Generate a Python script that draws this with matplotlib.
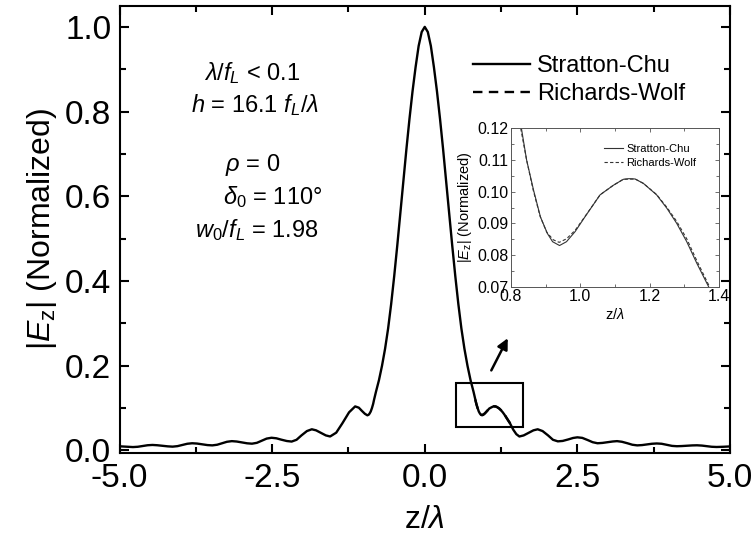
import matplotlib
matplotlib.use("Agg")
import matplotlib.pyplot as plt
from matplotlib.lines import Line2D
from matplotlib.patches import Rectangle
from matplotlib.ticker import MultipleLocator

plt.rcParams['font.family'] = ['Liberation Sans', 'DejaVu Sans']
plt.rcParams['mathtext.fontset'] = 'custom'
plt.rcParams['mathtext.rm'] = 'Liberation Sans'
plt.rcParams['mathtext.it'] = 'Liberation Sans:italic'
plt.rcParams['mathtext.bf'] = 'Liberation Sans:bold'

# ---------------- data ----------------
z_main = [-5.00, -4.89, -4.78, -4.70, -4.62, -4.54, -4.46, -4.38, -4.30, -4.21,
          -4.13, -4.05, -3.97, -3.89, -3.81, -3.73, -3.65, -3.56, -3.48, -3.40,
          -3.32, -3.24, -3.16, -3.08, -3.00, -2.91, -2.83, -2.75, -2.67, -2.59,
          -2.51, -2.43, -2.35, -2.26, -2.18, -2.10, -2.02, -1.93, -1.85, -1.78,
          -1.70, -1.62, -1.55, -1.45, -1.35, -1.24, -1.14, -1.08, -1.03, -0.98,
          -0.94, -0.92, -0.905, -0.885, -0.865, -0.845, -0.83, -0.80, -0.75, -0.70,
          -0.65, -0.60, -0.55, -0.50, -0.45, -0.40, -0.35, -0.30, -0.25, -0.20,
          -0.15, -0.10, -0.05, 0.00, 0.05, 0.10, 0.15, 0.20, 0.25, 0.30,
          0.35, 0.40, 0.45, 0.50, 0.55, 0.60, 0.65, 0.70, 0.75, 0.80,
          0.83, 0.845, 0.865, 0.885, 0.905, 0.92, 0.94, 0.96, 0.985, 1.013,
          1.057, 1.095, 1.124, 1.14, 1.158, 1.182, 1.22, 1.25, 1.278, 1.307,
          1.336, 1.37, 1.40, 1.45, 1.50, 1.55, 1.62, 1.70, 1.78, 1.85,
          1.93, 2.02, 2.10, 2.18, 2.26, 2.35, 2.43, 2.50, 2.58, 2.67,
          2.75, 2.83, 2.91, 3.00, 3.08, 3.15, 3.23, 3.32, 3.40, 3.48,
          3.56, 3.64, 3.72, 3.80, 3.88, 3.97, 4.05, 4.13, 4.21, 4.30,
          4.38, 4.46, 4.54, 4.62, 4.70, 4.78, 4.89, 5.00]
sc_main = [0.0098, 0.0088, 0.0080, 0.0087, 0.0105, 0.0123, 0.0130, 0.0123, 0.0110, 0.0097,
           0.0090, 0.0102, 0.0130, 0.0158, 0.0170, 0.0163, 0.0145, 0.0127, 0.0120, 0.0135,
           0.0170, 0.0205, 0.0220, 0.0211, 0.0190, 0.0169, 0.0160, 0.0180, 0.0230, 0.0280,
           0.0300, 0.0287, 0.0255, 0.0223, 0.0210, 0.0252, 0.0355, 0.0458, 0.0500, 0.0475,
           0.0415, 0.0355, 0.0330, 0.0420, 0.0640, 0.0900, 0.1040, 0.1010, 0.0935, 0.0865,
           0.0830, 0.0842, 0.0868, 0.0920, 0.1000, 0.1100, 0.1200, 0.1380, 0.1660, 0.2000,
           0.2400, 0.2880, 0.3460, 0.4120, 0.4840, 0.5600, 0.6370, 0.7120, 0.7830, 0.8480,
           0.9050, 0.9550, 0.9880, 1.0000, 0.9880, 0.9550, 0.9050, 0.8480, 0.7830, 0.7120,
           0.6370, 0.5600, 0.4840, 0.4120, 0.3460, 0.2880, 0.2400, 0.2000, 0.1660, 0.1380,
           0.1200, 0.1100, 0.1005, 0.0920, 0.0868, 0.0842, 0.0830, 0.0842, 0.0874, 0.0920,
           0.0990, 0.1020, 0.1039, 0.1041, 0.1040, 0.1026, 0.0990, 0.0947, 0.0900, 0.0842,
           0.0774, 0.0700, 0.0630, 0.0490, 0.0385, 0.0330, 0.0355, 0.0415, 0.0475, 0.0500,
           0.0458, 0.0355, 0.0252, 0.0215, 0.0225, 0.0260, 0.0295, 0.0310, 0.0297, 0.0245,
           0.0195, 0.0170, 0.0178, 0.0195, 0.0212, 0.0220, 0.0205, 0.0170, 0.0135, 0.0120,
           0.0127, 0.0143, 0.0158, 0.0165, 0.0158, 0.0132, 0.0108, 0.0100, 0.0104, 0.0112,
           0.0119, 0.0122, 0.0115, 0.0100, 0.0087, 0.0082, 0.0087, 0.0095]

z_rw = [0.828, 0.845, 0.864, 0.884, 0.903, 0.922, 0.939, 0.960, 0.985, 1.013,
        1.057, 1.095, 1.124, 1.158, 1.182, 1.22, 1.25, 1.278, 1.307, 1.336,
        1.369, 1.40]
rw_vals = [0.1200, 0.1100, 0.1005, 0.0922, 0.0872, 0.0848, 0.0840, 0.0851, 0.0878, 0.0921,
           0.0990, 0.1020, 0.1039, 0.1040, 0.1026, 0.0991, 0.0950, 0.0906, 0.0851, 0.0782,
           0.0708, 0.0640]

series_names = ["Stratton-Chu", "Richards-Wolf"]
main_xticks = [-5.0, -2.5, 0.0, 2.5, 5.0]
main_yticks = [0.0, 0.2, 0.4, 0.6, 0.8, 1.0]
inset_xticks = [0.8, 1.0, 1.2, 1.4]
inset_yticks = [0.07, 0.08, 0.09, 0.10, 0.11, 0.12]
zoom_box = (0.52, 0.055, 1.61, 0.160)   # z0, v0, z1, v1
params = [r"$\lambda/f_L$ < 0.1", r"$h$ = 16.1 $f_L/\lambda$", r"$\rho$ = 0",
          r"$\delta_{\mathrm{0}}$ = 110°", r"$w_{\mathrm{0}}/f_L$ = 1.98"]

W, H = 754, 544
fig = plt.figure(figsize=(W / 100, H / 100), dpi=100)

# ---------------- main axes ----------------
L, R, T, B = 119.5, 730, 5.7, 453
ax = fig.add_axes([L / W, 1 - B / H, (R - L) / W, (B - T) / H])
ax.plot(z_rw, rw_vals, color='black', lw=1.7, ls=(0, (4, 2.7)), zorder=2)
ax.plot(z_main, sc_main, color='black', lw=1.7, zorder=3)
ax.set_xlim(-5, 5)
ax.set_ylim(-0.006, 1.05)
ax.set_xticks(main_xticks)
ax.set_xticklabels([f"{t:.1f}" for t in main_xticks])
ax.set_yticks(main_yticks)
ax.set_yticklabels([f"{t:.1f}" for t in main_yticks])
ax.xaxis.set_minor_locator(MultipleLocator(1.25))
ax.yaxis.set_minor_locator(MultipleLocator(0.1))
ax.tick_params(which='both', direction='in', top=True, right=True, width=1.5,
               labelsize=24)
ax.tick_params(axis='x', which='both', pad=7)
ax.tick_params(axis='y', which='both', pad=6)
ax.tick_params(which='major', length=6.5)
ax.tick_params(which='minor', length=4.3)
for s in ax.spines.values():
    s.set_linewidth(1.5)
ax.set_xlabel(r"z/$\lambda$", fontsize=23, labelpad=8)
ax.set_ylabel(r"|$E_{\mathrm{z}}$| (Normalized)", fontsize=23, labelpad=4)

ax.add_patch(Rectangle((zoom_box[0], zoom_box[1]), zoom_box[2] - zoom_box[0],
                       zoom_box[3] - zoom_box[1], fill=False, lw=1.5,
                       edgecolor='black', zorder=4))
ax.annotate("", xy=(1.36, 0.265), xytext=(1.09, 0.189),
            arrowprops=dict(arrowstyle='-|>', lw=1.8, color='black',
                            mutation_scale=16, shrinkA=0, shrinkB=0))

# parameter annotations
pos = [(252, 73), (255, 105), (253, 165), (273, 197), (257, 230)]
for (px, py), txt in zip(pos, params):
    fig.text(px / W, 1 - py / H, txt, fontsize=17, ha='center', va='center')

h1 = Line2D([], [], color='black', lw=1.7)
h2 = Line2D([], [], color='black', lw=1.7, ls=(0, (4, 2.7)))
ax.legend([h1, h2], series_names, loc='upper left',
          bbox_to_anchor=(473 / W, 1 - 55 / H), bbox_transform=fig.transFigure,
          frameon=False, fontsize=17, handlelength=2.4, handletextpad=0.3,
          labelspacing=0.25, borderpad=0, borderaxespad=0)

# ---------------- inset ----------------
iL, iR, iT, iB = 511, 719, 128.3, 286.7
axi = fig.add_axes([iL / W, 1 - iB / H, (iR - iL) / W, (iB - iT) / H])
axi.plot(z_main, sc_main, color='#333333', lw=0.8)
axi.plot(z_rw, rw_vals, color='#333333', lw=0.8, ls=(0, (3, 2)))
axi.set_xlim(0.8, 1.4)
axi.set_ylim(0.07, 0.12)
axi.set_xticks(inset_xticks)
axi.set_xticklabels([f"{t:.1f}" for t in inset_xticks])
axi.set_yticks(inset_yticks)
axi.set_yticklabels([f"{t:.2f}" for t in inset_yticks])
axi.xaxis.set_minor_locator(MultipleLocator(0.1))
axi.yaxis.set_minor_locator(MultipleLocator(0.005))
axi.tick_params(which='both', direction='in', top=True, right=True, width=0.6,
                labelsize=11.5, pad=2, color='#555555')
axi.tick_params(which='major', length=3)
axi.tick_params(which='minor', length=2)
for s in axi.spines.values():
    s.set_linewidth(0.7)
    s.set_color('#555555')
axi.set_xlabel(r"z/$\lambda$", fontsize=10.5, labelpad=2)
axi.set_ylabel(r"|$E_{\mathrm{z}}$| (Normalized)", fontsize=10.5, labelpad=2)
ih1 = Line2D([], [], color='#333333', lw=0.8)
ih2 = Line2D([], [], color='#333333', lw=0.8, ls=(0, (3, 2)))
axi.legend([ih1, ih2], series_names, loc='upper left',
           bbox_to_anchor=(604 / W, 1 - 144 / H), bbox_transform=fig.transFigure,
           frameon=False, fontsize=8, handlelength=1.7, handletextpad=0.3,
           labelspacing=0.35, borderpad=0, borderaxespad=0)

fig.savefig("out.png", dpi=100)
